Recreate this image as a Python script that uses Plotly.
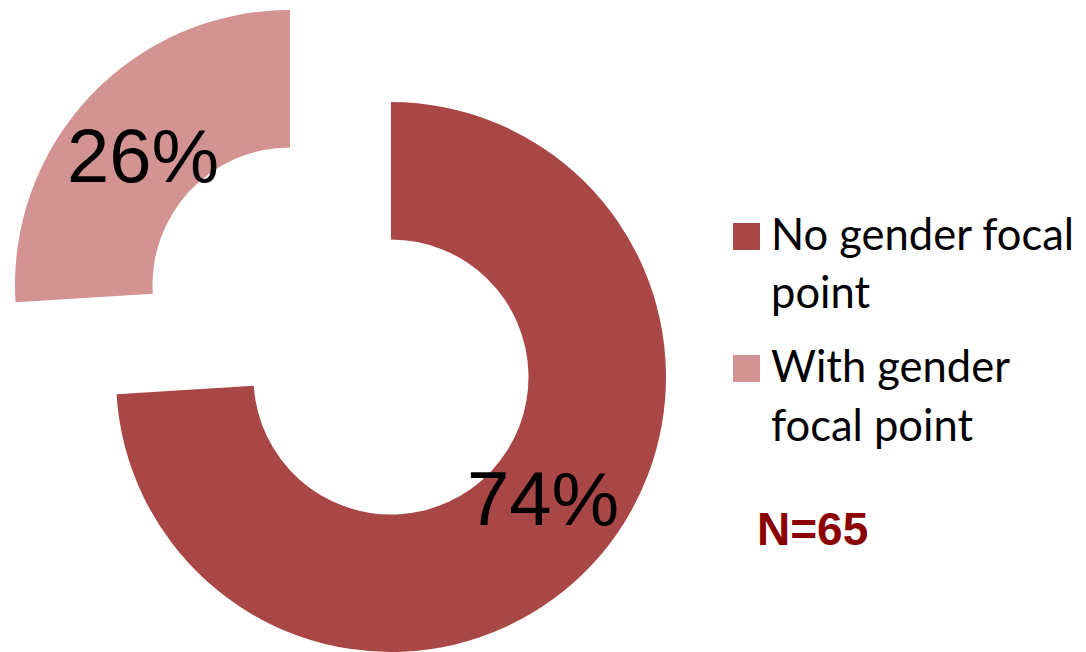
import plotly.graph_objects as go

# ---- data ----
categories = ["No gender focal<br>point", "With gender<br>focal point"]
values = [74, 26]
colors = ["#A94746", "#D39392"]
sample_note = "N=65"

W, H = 1086, 652
CLEAR = "rgba(0,0,0,0)"


def px_x(x):
    return x / W


def px_y(y):
    return 1 - y / H


fig = go.Figure()

# main (74%) ring segment
fig.add_trace(go.Pie(
    values=values, labels=categories,
    marker=dict(colors=[colors[0], CLEAR], line=dict(width=0)),
    hole=0.5, sort=False, direction="clockwise", rotation=0,
    textinfo="none", hoverinfo="label+percent", showlegend=False,
    domain=dict(x=[px_x(116), px_x(666)], y=[0, 550 / H]),
))

# exploded (26%) ring segment
fig.add_trace(go.Pie(
    values=values, labels=categories,
    marker=dict(colors=[CLEAR, colors[1]], line=dict(width=0)),
    hole=0.5, sort=False, direction="clockwise", rotation=0,
    textinfo="none", hoverinfo="label+percent", showlegend=False,
    domain=dict(x=[px_x(15), px_x(565)], y=[92 / H, 642 / H]),
))

total = sum(values)
pct_pos = [(543, 498), (143, 156)]
annotations = []
for v, (x, y) in zip(values, pct_pos):
    annotations.append(dict(
        text=f"{round(100 * v / total)}%", x=px_x(x), y=px_y(y),
        xref="paper", yref="paper", xanchor="center", yanchor="middle",
        showarrow=False, font=dict(family="Liberation Sans, Arial", size=76, color="#000000"),
    ))

# custom legend (large square swatches like the original)
shapes = []
sq_tops = [223, 355]
line_baselines = [[250, 308], [382, 441]]
LFS = 43.5
for lab, col, top, bases in zip(categories, colors, sq_tops, line_baselines):
    shapes.append(dict(type="rect", xref="paper", yref="paper",
                       x0=px_x(733), x1=px_x(760), y0=px_y(top + 27), y1=px_y(top),
                       fillcolor=col, line=dict(width=0)))
    for part, b in zip(lab.split("<br>"), bases):
        annotations.append(dict(
            text=part, x=px_x(769), y=px_y(b - 0.387 * LFS),
            xref="paper", yref="paper", xanchor="left", yanchor="middle",
            showarrow=False, font=dict(family="Lato", size=LFS, color="#000000"),
        ))

annotations.append(dict(
    text=f"<b>{sample_note}</b>", x=px_x(812), y=px_y(529),
    xref="paper", yref="paper", xanchor="center", yanchor="middle",
    showarrow=False, font=dict(family="Liberation Sans, Arial", size=46, color="#8B0000"),
))

fig.update_layout(
    width=W, height=H, margin=dict(l=0, r=0, t=0, b=0),
    paper_bgcolor="white", plot_bgcolor="white",
    annotations=annotations, shapes=shapes, showlegend=False,
)

fig.write_html("out.html", config={"displayModeBar": False},
               post_script="document.body.style.margin='0';document.body.style.overflow='hidden';")
